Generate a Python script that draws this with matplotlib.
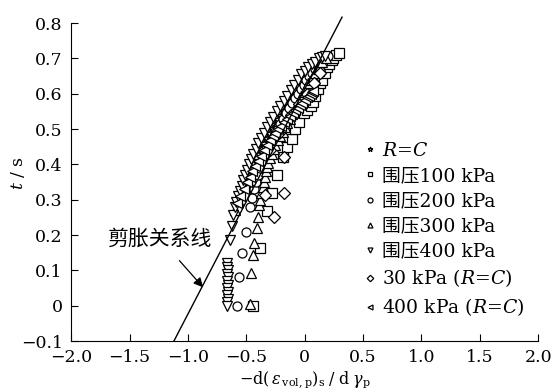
import numpy as np
import matplotlib.pyplot as plt
from matplotlib.ticker import FuncFormatter, MultipleLocator

plt.rcParams['font.family'] = ['DejaVu Serif', 'Noto Sans CJK SC']
plt.rcParams['mathtext.fontset'] = 'dejavuserif'

# 剪胀关系线 (two end points)
line_x = [-1.12, 0.32]
line_y = [-0.10, 0.817]

# R=C
rc_x = [-0.55, -0.52, -0.50, -0.475, -0.45, -0.425, -0.40, -0.375, -0.35, -0.325, -0.30, -0.275,
        -0.25, -0.225, -0.20, -0.175, -0.15, -0.125, -0.10, -0.075, -0.05, -0.025, 0.0, 0.025,
        0.05, 0.075, 0.10, 0.125, 0.15]
rc_y = [0.32, 0.345, 0.36, 0.38, 0.40, 0.415, 0.43, 0.445, 0.46, 0.475, 0.49, 0.503,
        0.515, 0.528, 0.54, 0.553, 0.565, 0.578, 0.59, 0.603, 0.615, 0.628, 0.64, 0.65,
        0.66, 0.67, 0.68, 0.688, 0.695]

# 围压100 kPa
p100_x = [-0.44, -0.38, -0.32, -0.28, -0.235, -0.19, -0.15, -0.11, -0.08, -0.05, -0.01, 0.02, 0.05,
          0.07, 0.09, 0.115, 0.13, 0.15, 0.17, 0.19, 0.21, 0.23, 0.245, 0.27, 0.29,
          -0.28, -0.22, -0.16, -0.09, -0.03, 0.03, 0.08, 0.12]
p100_y = [0.0, 0.163, 0.267, 0.32, 0.37, 0.42, 0.449, 0.471, 0.50, 0.52, 0.545, 0.555, 0.565,
          0.576, 0.595, 0.613, 0.63, 0.64, 0.66, 0.675, 0.685, 0.695, 0.70, 0.71, 0.715,
          0.46, 0.50, 0.53, 0.56, 0.59, 0.62, 0.645, 0.665]

# 围压200 kPa
p200_x = [-0.58, -0.56, -0.535, -0.50, -0.47, -0.45, -0.43, -0.415, -0.40, -0.38, -0.355, -0.33,
          -0.31, -0.285, -0.26, -0.235, -0.21, -0.185, -0.16, -0.135, -0.11, -0.085, -0.06, -0.035,
          -0.01, 0.015, 0.04, 0.065, 0.09, 0.115, 0.14, 0.17, 0.20]
p200_y = [0.0, 0.08, 0.148, 0.208, 0.28, 0.305, 0.33, 0.35, 0.37, 0.39, 0.41, 0.428,
          0.445, 0.463, 0.48, 0.498, 0.515, 0.53, 0.545, 0.56, 0.575, 0.588, 0.60, 0.613,
          0.625, 0.638, 0.65, 0.66, 0.67, 0.68, 0.69, 0.70, 0.706]

# 围压300 kPa
p300_x = [-0.47, -0.46, -0.44, -0.43, -0.41, -0.40, -0.39, -0.38, -0.37, -0.36, -0.35, -0.34,
          -0.33, -0.32, -0.31, -0.295, -0.28, -0.265, -0.25, -0.23, -0.21, -0.19, -0.17, -0.15,
          -0.13, -0.11, -0.09, -0.07, -0.05, -0.03, -0.01, 0.01, 0.03, 0.05, 0.07, 0.09,
          0.11, 0.13, 0.15, 0.18,
          -0.60, -0.57, -0.55, -0.52, -0.49, -0.46, -0.43]
p300_y = [0.004, 0.092, 0.143, 0.177, 0.219, 0.25, 0.284, 0.30, 0.32, 0.335, 0.35, 0.365,
          0.38, 0.393, 0.405, 0.418, 0.43, 0.443, 0.455, 0.468, 0.48, 0.493, 0.505, 0.518,
          0.53, 0.543, 0.555, 0.568, 0.58, 0.593, 0.605, 0.618, 0.63, 0.64, 0.65, 0.66,
          0.67, 0.68, 0.69, 0.70,
          0.27, 0.30, 0.33, 0.36, 0.39, 0.41, 0.43]

# 围压400 kPa
p400_x = [-0.665, -0.665, -0.66, -0.665, -0.66, -0.665, -0.66, -0.665, -0.66, -0.665, -0.66, -0.665, -0.665,
          -0.64, -0.62, -0.61, -0.60, -0.585, -0.57, -0.555, -0.54, -0.525, -0.51, -0.495, -0.48,
          -0.46, -0.44, -0.42, -0.40, -0.375, -0.35, -0.325, -0.30, -0.27, -0.24, -0.21, -0.18,
          -0.15, -0.12, -0.09, -0.06, -0.03, 0.0, 0.03, 0.06, 0.09, 0.12, 0.15, 0.17]
p400_y = [0.12, 0.11, 0.10, 0.09, 0.08, 0.07, 0.06, 0.05, 0.04, 0.03, 0.02, 0.01, 0.0,
          0.185, 0.225, 0.256, 0.28, 0.295, 0.31, 0.325, 0.34, 0.355, 0.37, 0.385, 0.40,
          0.415, 0.43, 0.445, 0.46, 0.475, 0.49, 0.505, 0.52, 0.535, 0.55, 0.565, 0.58,
          0.595, 0.61, 0.625, 0.64, 0.655, 0.665, 0.675, 0.685, 0.69, 0.70, 0.705, 0.708]

# 30 kPa (R=C)
k30_x = [-0.34, -0.26, -0.175, -0.18, -0.30, -0.22, -0.12, -0.05, 0.02, 0.08, 0.13]
k30_y = [0.313, 0.25, 0.32, 0.42, 0.44, 0.49, 0.54, 0.57, 0.60, 0.63, 0.66]

# 400 kPa (R=C)
k400_x = [-0.58, -0.55, -0.52, -0.49, -0.47, -0.45, -0.425, -0.40, -0.375, -0.35, -0.325, -0.30,
          -0.275, -0.25, -0.225, -0.20, -0.175, -0.15, -0.125, -0.10, -0.08, -0.06, -0.04, -0.02,
          0.0, 0.02, 0.035, 0.05, 0.06, 0.07]
k400_y = [0.29, 0.31, 0.33, 0.35, 0.365, 0.38, 0.395, 0.41, 0.425, 0.44, 0.455, 0.47,
          0.48, 0.49, 0.50, 0.51, 0.52, 0.53, 0.538, 0.545, 0.553, 0.56, 0.568, 0.575,
          0.583, 0.59, 0.595, 0.60, 0.604, 0.607]

fig = plt.figure(figsize=(5.56, 3.92), dpi=100)
ax = fig.add_axes([0.128, 0.130, 0.840, 0.811])

mk = dict(linestyle='none', markerfacecolor='white', markeredgecolor='black',
          markeredgewidth=0.9, markersize=6.5)

ax.plot(rc_x, rc_y, marker='*', label=r'$R$=$C$', **mk)
ax.plot(p100_x, p100_y, marker='s', label='围压100 kPa', **mk)
ax.plot(p200_x, p200_y, marker='o', label='围压200 kPa', **mk)
ax.plot(p300_x, p300_y, marker='^', label='围压300 kPa', **mk)
ax.plot(p400_x, p400_y, marker='v', label='围压400 kPa', **mk)
ax.plot(k30_x, k30_y, marker='D', label=r'30 kPa ($R$=$C$)', **{**mk, 'markersize': 6})
ax.plot(k400_x, k400_y, marker='<', label=r'400 kPa ($R$=$C$)', **mk)

ax.plot(line_x, line_y, color='black', lw=1.0, zorder=5, clip_on=False)

ax.annotate('剪胀关系线', xy=(-0.87, 0.052), xytext=(-1.24, 0.19),
            ha='center', va='center', fontsize=15,
            arrowprops=dict(arrowstyle='-|>', color='black', lw=0.9,
                            mutation_scale=14, shrinkA=9, shrinkB=0))

ax.set_xlim(-2.0, 2.0)
ax.set_ylim(-0.1, 0.8)
ax.xaxis.set_major_locator(MultipleLocator(0.5))
ax.yaxis.set_major_locator(MultipleLocator(0.1))


def fmt(v, pos):
    if abs(v) < 1e-9:
        return '0'
    return ('%.1f' % v).replace('-', '\u2212')


ax.xaxis.set_major_formatter(FuncFormatter(fmt))
ax.yaxis.set_major_formatter(FuncFormatter(fmt))
ax.tick_params(direction='in', length=5, width=0.8, labelsize=12.5)
ax.tick_params(axis='x', pad=6)
ax.tick_params(axis='y', pad=6)
ax.spines['top'].set_visible(False)
ax.spines['right'].set_visible(False)

ax.set_xlabel(r'$-\mathrm{d}(\,\varepsilon_{\,\mathrm{vol,p}})_{\mathrm{s}}\;/\;\mathrm{d}\;\gamma_{\mathrm{p}}$',
              fontsize=11.5, labelpad=2)
ax.set_ylabel(r'$t$ / s', fontsize=12.5)
ax.yaxis.set_label_coords(-0.095, 0.53)

ax.legend(loc='upper left', bbox_to_anchor=(0.61, 0.65), frameon=False, fontsize=13.5,
          markerscale=0.55, handlelength=0.7, handletextpad=0.3, labelspacing=0.38,
          borderaxespad=0)

fig.savefig('out.png', dpi=100)
